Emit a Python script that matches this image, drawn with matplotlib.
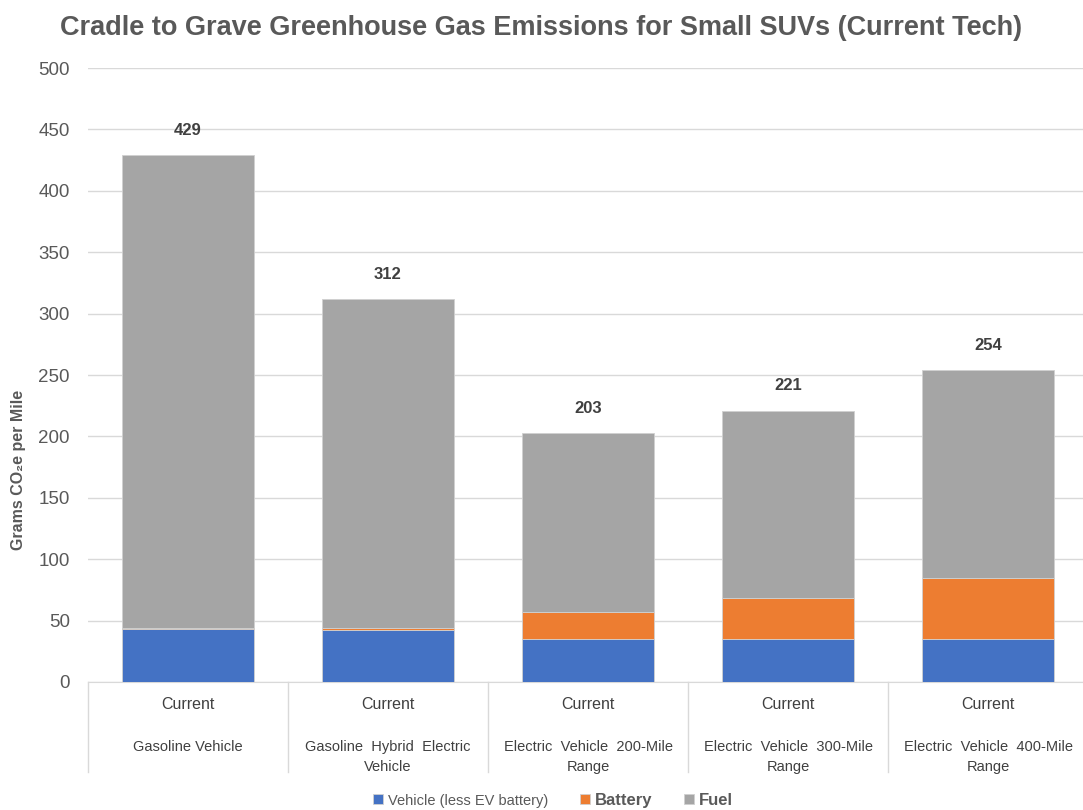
import matplotlib
matplotlib.use("Agg")
import matplotlib.pyplot as plt
from matplotlib.lines import Line2D

plt.rcParams["font.family"] = ["Liberation Sans", "DejaVu Sans"]

cats = ["Gasoline Vehicle", "Gasoline  Hybrid  Electric\nVehicle",
        "Electric  Vehicle  200-Mile\nRange", "Electric  Vehicle  300-Mile\nRange",
        "Electric  Vehicle  400-Mile\nRange"]
vehicle = [43, 42, 35, 35, 35]
battery = [1, 2, 22, 33, 50]
totals = [429, 312, 203, 221, 254]
fuel = [t - v - b for t, v, b in zip(totals, vehicle, battery)]

blue = "#4472C4"
orange = "#ED7D31"
gray = "#A5A5A5"
txt = "#595959"

fig = plt.figure(figsize=(10.83, 8.10), dpi=100)
ax = fig.add_axes([88 / 1083, 128 / 810, 995 / 1083, 614 / 810])

x = list(range(len(cats)))
w = 0.66
ax.bar(x, vehicle, w, color=blue, edgecolor="#d0d0d0", linewidth=0.6, label="Vehicle (less EV battery)", zorder=3)
ax.bar(x, battery, w, bottom=vehicle, color=orange, edgecolor="#d0d0d0", linewidth=0.6, label="Battery", zorder=3)
bot2 = [v + b for v, b in zip(vehicle, battery)]
ax.bar(x, fuel, w, bottom=bot2, color=gray, edgecolor="#d0d0d0", linewidth=0.6, label="Fuel", zorder=3)

for i, t in enumerate(totals):
    ax.text(i, t + 14, str(t), ha="center", va="bottom", fontsize=12, fontweight="bold", color="#404040")

ax.set_xlim(-0.5, 4.475)
ax.set_ylim(0, 500)
ax.set_yticks(range(0, 501, 50))
ax.tick_params(axis="y", length=0, labelsize=13.5, labelcolor=txt, pad=13)
ax.set_xticks([])
ax.grid(axis="y", color="#d9d9d9", linewidth=1, zorder=0)
for s in ["top", "right", "left"]:
    ax.spines[s].set_visible(False)
ax.spines["bottom"].set_color("#d9d9d9")

ax.set_ylabel("Grams CO₂e per Mile", fontsize=11.5, fontweight="bold", color=txt)
ax.yaxis.set_label_coords(-62 / 995, 0.345)

fig.text(0.5, 0.965, "Cradle to Grave Greenhouse Gas Emissions for Small SUVs (Current Tech)",
         ha="center", va="center", fontsize=19.5, fontweight="bold", color=txt)

# category table under the axis
for b in [-0.5, 0.5, 1.5, 2.5, 3.5, 4.49]:
    ax.add_line(Line2D([b, b], [0, -73], color="#d9d9d9", linewidth=1, clip_on=False))
for i, c in enumerate(cats):
    ax.text(i, -18, "Current", ha="center", va="center", fontsize=11.5, color="#404040")
    ax.text(i, -47, c, ha="center", va="top", fontsize=10.5, color="#404040", linespacing=1.6)

leg = ax.legend(loc="center", bbox_to_anchor=(0.467, -0.193), ncol=3, frameon=False, fontsize=12,
                handlelength=0.6, handleheight=0.6, handletextpad=0.3, columnspacing=1.9,
                labelcolor=txt)
texts = leg.get_texts()
texts[0].set_fontsize(10.5)
texts[1].set_fontweight("bold")
texts[2].set_fontweight("bold")

fig.savefig("out.png", dpi=100)
